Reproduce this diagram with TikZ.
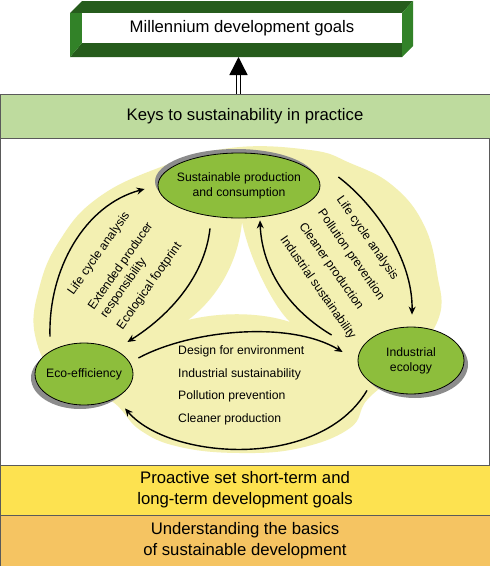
\documentclass[tikz,border=0pt]{standalone}
\usepackage{fontspec}
\setmainfont{Liberation Sans}
\usetikzlibrary{shapes.geometric,shadows,arrows.meta}

\definecolor{keysgreen}{RGB}{190,219,158}
\definecolor{leafgreen}{RGB}{141,190,60}
\definecolor{paleyellow}{RGB}{243,240,178}
\definecolor{goalyellow}{RGB}{253,226,80}
\definecolor{basicorange}{RGB}{245,196,98}
\definecolor{framedark}{RGB}{38,92,28}
\definecolor{frameside}{RGB}{50,130,40}
\definecolor{edgegray}{RGB}{90,90,90}

\tikzset{
  bar/.style={draw=edgegray, line width=0.8pt, minimum width=490pt, inner sep=0pt,
    align=center, font=\fontsize{16.7}{21}\selectfont},
  disc/.style={ellipse, draw=black, line width=0.8pt, fill=leafgreen, inner sep=0pt},
  lbl/.style={inner sep=0pt, font=\fontsize{12.2}{15}\selectfont},
  flow/.style={line width=1.4pt, -{Stealth[length=8pt,width=7pt]}},
}

\begin{document}
\begin{tikzpicture}[x=1pt,y=-1pt]
  \useasboundingbox (0,0) rectangle (490,566);

  \draw[edgegray, fill=white] (0.4,138) rectangle (489.6,465);

  % framed goal box on top
  \fill[framedark] (70,13) -- (82,1) -- (413,1) -- (402,13) -- cycle;
  \fill[framedark] (70,57) -- (82,43) -- (402,43) -- (402,57) -- cycle;
  \fill[frameside] (70,13) -- (82,13) -- (82,43) -- (70,57) -- cycle;
  \fill[frameside] (402,13) -- (413,1) -- (413,46) -- (402,57) -- cycle;
  \fill[white] (82,13) rectangle (402,43);
  \node[font=\fontsize{16.7}{20}\selectfont] (mdg) at (242,28) {Millennium development goals};
  \coordinate (frame) at (238.5,57);

  \node[bar, fill=keysgreen, minimum height=44pt] (keys) at (245,116) {Keys to sustainability in practice};
  \draw[double=white, double distance=3pt, line width=1.4pt,
    -{Triangle[length=18pt,width=18pt]}] (keys.north -| frame) -- (frame);

  % background blob with the hole in the middle
  \fill[paleyellow, even odd rule]
    plot[smooth cycle, tension=0.7] coordinates {(153,170) (230,148) (310,150) (350,163)
      (392,185) (423,223) (437,273) (438,320) (400,370) (367,400) (350,428) (300,448)
      (240,453) (180,447) (140,430) (110,400) (60,380) (35,335) (40,285) (60,240) (95,200)}
    (242,222) .. controls (238,265) and (215,300) .. (188,320)
      .. controls (220,312) and (260,312) .. (290,322)
      .. controls (275,308) and (250,262) .. (242,222) -- cycle;

  \node[disc, minimum width=162pt, minimum height=65pt,
    drop shadow={shadow xshift=-3pt, shadow yshift=4pt, fill=black!45, opacity=1}] (spc) at (239,185.5) {};
  \node[lbl, align=center] (spctext) at (spc) {Sustainable production\\and consumption};
  \node[disc, minimum width=98pt, minimum height=62pt,
    drop shadow={shadow xshift=-4pt, shadow yshift=-4pt, fill=black!45, opacity=1}] (eco) at (84,374) {};
  \node[lbl] (ecotext) at (eco) {Eco-efficiency};
  \node[disc, minimum width=106pt, minimum height=67pt,
    drop shadow={shadow xshift=4pt, shadow yshift=-4pt, fill=black!45, opacity=1}] (ind) at (411,360.5) {};
  \node[lbl, align=center] (indtext) at (ind) {Industrial\\ecology};

  % loops between the three
  \draw[flow] ([shift={(-34,-6)}]eco.north) .. controls +(-2,-67) and +(-60,16) .. ([shift={(-13,3.5)}]spc.west);
  \draw[flow] ([shift={(-29,10)}]spc.south) .. controls +(-5,47) and +(43,-27) .. ([shift={(-6,-32)}]eco.east);
  \draw[flow] ([shift={(18,-8.5)}]spc.east) .. controls +(37,28) and +(1,-55) .. ([shift={(1,-12)}]ind.north);
  \draw[flow] ([shift={(-26,-25.5)}]ind.west) .. controls +(-42,-25) and +(2,50) .. ([shift={(21,2)}]spc.south);
  \draw[flow] ([shift={(5,-16)}]eco.east) .. controls +(52,-28) and +(-53,-32) .. ([shift={(-15,-8.5)}]ind.west);
  \draw[flow] ([shift={(-44,-4)}]ind.south) .. controls +(-47,80) and +(45,52) .. ([shift={(41,3)}]eco.south);

  \node[lbl, align=left, rotate=55] (lefttools) at (125,269)
    {Life cycle analysis\\[10pt]Extended producer\\responsibility\\[5pt]Ecological footprint};
  \node[lbl, align=left, rotate=-55] (righttools) at (346,268)
    {Life cycle analysis\\[8pt]Pollution prevention\\[8pt]Cleaner production\\[8pt]Industrial sustainability};
  \node[lbl, align=left, anchor=west, font=\fontsize{12.2}{22.5}\selectfont] (bottomtools) at (178,385.5)
    {Design for environment\\Industrial sustainability\\Pollution prevention\\Cleaner production};

  \node[bar, fill=goalyellow, minimum height=50pt] (goals) at (245,490)
    {Proactive set short-term and\\long-term development goals};
  \node[bar, fill=basicorange, minimum height=51pt] (basics) at (245,540.5)
    {Understanding the basics\\of sustainable development};

\end{tikzpicture}
\end{document}
